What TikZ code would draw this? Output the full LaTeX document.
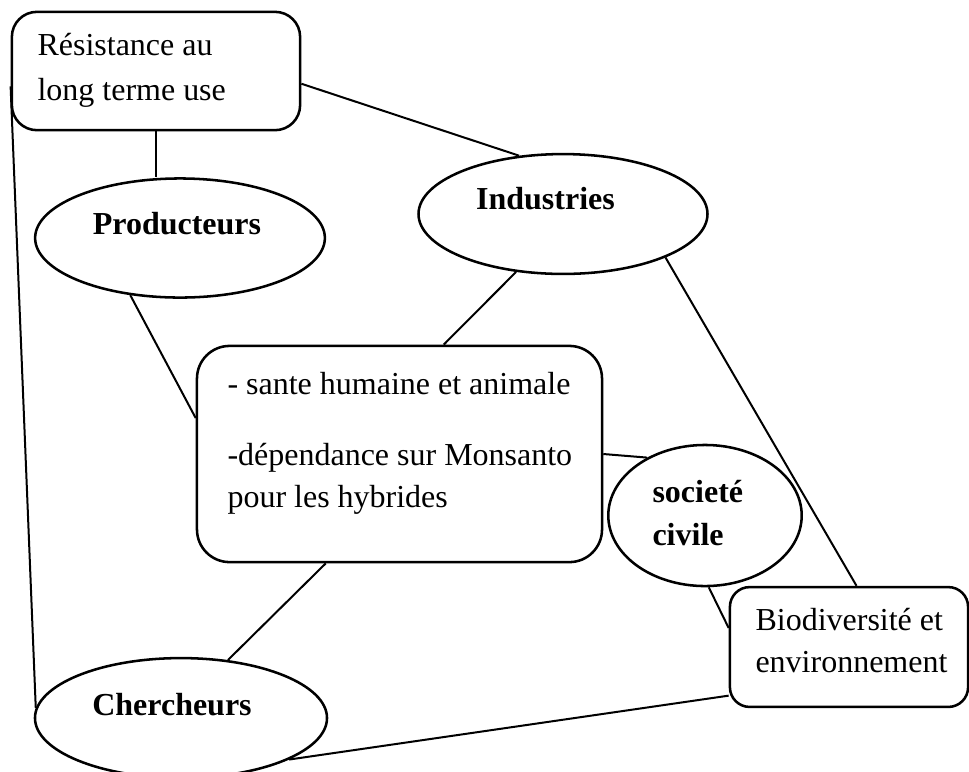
\documentclass[tikz,border=0pt]{standalone}
\usepackage{fontspec}
\setmainfont{Liberation Serif}
\usetikzlibrary{shapes.geometric}

\begin{document}
\begin{tikzpicture}[
  x=0.01318cm, y=-0.01318cm,
  font=\fontsize{12}{15.6}\selectfont,
  box/.style={rectangle, draw, line width=0.95pt, inner sep=0pt},
  oval/.style={ellipse, draw, line width=0.95pt, inner sep=0pt},
  txt/.style={inner sep=0pt, align=left, anchor=base west},
  title/.style={inner sep=0pt, anchor=base, font=\fontsize{12}{15.6}\selectfont\bfseries},
  link/.style={line width=0.75pt}
]
\useasboundingbox (0,0) rectangle (969,771);
% shapes
\node[box, rounded corners=0.33cm, minimum width=3.80cm, minimum height=1.56cm] (res) at (156,71) {};
\node[oval, minimum width=3.82cm, minimum height=1.57cm] (prod) at (180,238) {};
\node[oval, minimum width=3.81cm, minimum height=1.58cm] (ind) at (563,214) {};
\node[box, rounded corners=0.43cm, minimum width=5.34cm, minimum height=2.85cm] (sante) at (399.5,454) {};
\node[oval, minimum width=2.55cm, minimum height=1.86cm] (soc) at (705,515.5) {};
\node[box, rounded corners=0.26cm, minimum width=3.14cm, minimum height=1.58cm] (bio) at (849,647) {};
\node[oval, minimum width=3.85cm, minimum height=1.58cm] (cher) at (181,718) {};
% texts (base = last line)
\node[txt] (resT) at (37,100) {Résistance au\\[1.2pt]long terme use};
\node[title] (prodT) at (177,234) {Producteurs};
\node[title] (indT) at (545.5,209) {Industries};
\node[txt] (santeT) at (227,507) {- sante humaine et animale\\[11pt]-dépendance sur Monsanto\\pour les hybrides};
\node[txt, font=\fontsize{12}{15.6}\selectfont\bfseries] (socT) at (652,545) {societé\\[0.5pt]civile};
\node[txt] (bioT) at (755,672) {Biodiversité et\\environnement};
\node[title] (cherT) at (172,715) {Chercheurs};
% links
\draw[link] (res.south) -- (res.south |- prod.north);
\draw[link] (res.-5) -- (ind.127);
\draw[link] (res.186) -- (cher.176);
\draw[link] (prod.229) -- (sante.170);
\draw[link] (ind.231) -- (sante.68);
\draw[link] (sante.east) -- (soc.135);
\draw[link] (ind.-23) -- (bio.83);
\draw[link] (soc.-87) -- (bio.171);
\draw[link] (sante.236) -- (cher.51);
\draw[link] (cher.-21) -- (bio.202);
\end{tikzpicture}
\end{document}
